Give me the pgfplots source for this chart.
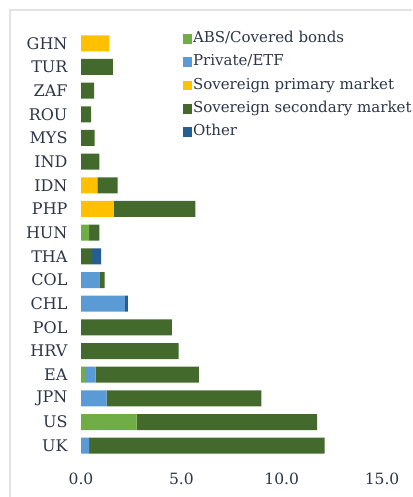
\documentclass[border=0pt]{standalone}
\usepackage{pgfplots}
\pgfplotsset{compat=1.18}
\usepackage{fontspec}
\setmainfont{DejaVu Serif}
\definecolor{absc}{HTML}{70AD47}
\definecolor{privc}{HTML}{5B9BD5}
\definecolor{primc}{HTML}{FFC000}
\definecolor{secc}{HTML}{436A2C}
\definecolor{othc}{HTML}{255E91}
\definecolor{txt}{HTML}{2E3548}
\definecolor{frame}{HTML}{E2E2E2}
\begin{document}
\begin{tikzpicture}[x=1pt,y=1pt]
\useasboundingbox (0,0) rectangle (412,497);
\fill[white] (0,0) rectangle (412,497);
\draw[frame, line width=1.2pt] (10,0) -- (10,487) -- (412,487);
\begin{axis}[
  at={(81pt,51.3pt)}, anchor=origin,
  x=20.07pt, y=23.67pt,
  xmin=0, xmax=15, ymin=-0.5, ymax=17.5,
  xbar stacked, bar width=16pt,
  axis line style={draw=none},
  major tick style={draw=none},
  xtick={0,5,10,15},
  xticklabels={0.0,5.0,10.0,15.0},
  xticklabel style={font=\fontsize{15.5}{15.5}\selectfont, text=txt, yshift=-12pt},
  ytick={0,...,17},
  yticklabels={UK,US,JPN,EA,HRV,POL,CHL,COL,THA,HUN,PHP,IDN,IND,MYS,ROU,ZAF,TUR,GHN},
  yticklabel style={font=\fontsize{16}{16}\selectfont, text=txt, xshift=-10pt},
  legend style={at={(axis cs:5.05,17.5)}, anchor=north west, draw=none, fill=none,
    font=\fontsize{15}{15}\selectfont, text=txt, row sep=8.3pt,
    nodes={inner sep=1pt, text height=10pt, text depth=3pt},
    legend cell align=left, inner sep=0pt},
  legend image code/.code={\fill[#1] (0pt,-4.5pt) rectangle (9.5pt,5pt);},
  clip=false,
]
\addplot[fill=absc, draw=none] coordinates {
(0,0) (2.77,1) (0,2) (0.21,3) (0,4) (0,5) (0,6) (0,7) (0,8) (0.41,9) (0,10) (0,11) (0,12) (0,13) (0,14) (0,15) (0,16) (0,17)};
\addlegendentry{ABS/Covered bonds}
\addplot[fill=privc, draw=none] coordinates {
(0.4,0) (0,1) (1.28,2) (0.52,3) (0,4) (0,5) (2.19,6) (0.91,7) (0,8) (0,9) (0,10) (0,11) (0,12) (0,13) (0,14) (0,15) (0,16) (0,17)};
\addlegendentry{Private/ETF}
\addplot[fill=primc, draw=none] coordinates {
(0,0) (0,1) (0,2) (0,3) (0,4) (0,5) (0,6) (0,7) (0,8) (0,9) (1.64,10) (0.81,11) (0,12) (0,13) (0,14) (0,15) (0,16) (1.41,17)};
\addlegendentry{Sovereign primary market}
\addplot[fill=secc, draw=none] coordinates {
(11.74,0) (8.99,1) (7.71,2) (5.14,3) (4.86,4) (4.53,5) (0,6) (0.27,7) (0.55,8) (0.5,9) (4.06,10) (1.02,11) (0.91,12) (0.68,13) (0.5,14) (0.65,15) (1.59,16) (0,17)};
\addlegendentry{Sovereign secondary market}
\addplot[fill=othc, draw=none] coordinates {
(0,0) (0,1) (0,2) (0,3) (0,4) (0,5) (0.15,6) (0,7) (0.45,8) (0,9) (0,10) (0,11) (0,12) (0,13) (0,14) (0,15) (0,16) (0,17)};
\addlegendentry{Other}
\end{axis}
\end{tikzpicture}
\end{document}
